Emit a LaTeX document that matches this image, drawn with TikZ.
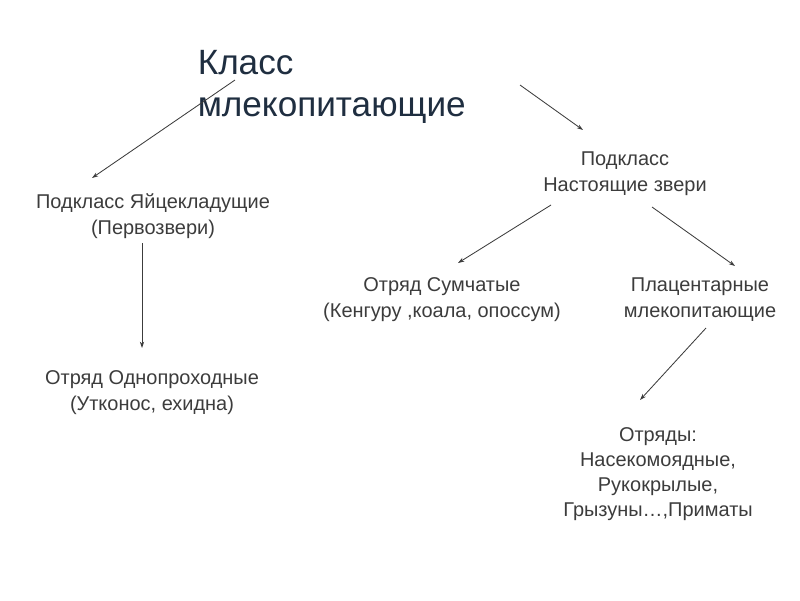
\documentclass[tikz,border=0pt]{standalone}
\usepackage{fontspec}
\setmainfont{Liberation Sans}
\usetikzlibrary{arrows.meta}
\definecolor{titleblue}{HTML}{1F2E40}
\definecolor{txtgray}{HTML}{3C3C3C}

\begin{document}
\begin{tikzpicture}
  \tikzset{
    lbl/.style={align=center, text=txtgray, font=\fontsize{14.2}{18.4}\selectfont},
    arr/.style={draw=txtgray, line width=0.6pt, -{Stealth[length=4.5pt,width=3pt]}}
  }
  \useasboundingbox (0,0) rectangle (20,-15);

  \node[anchor=west, align=left, text=titleblue, font=\fontsize{25}{30}\selectfont]
    (klass) at (4.82,-2.175) {Класс\\млекопитающие};
  \node[lbl] (yaytse) at (3.825,-5.4) {Подкласс Яйцекладущие\\(Первозвери)};
  \node[lbl] (nastoy) at (15.625,-4.35) {Подкласс\\Настоящие звери};
  \node[lbl] (sumch) at (11.05,-7.5) {Отряд Сумчатые\\(Кенгуру ,коала, опоссум)};
  \node[lbl] (placent) at (17.5,-7.5) {Плацентарные\\млекопитающие};
  \node[lbl] (odnopr) at (3.8,-9.825) {Отряд Однопроходные\\(Утконос, ехидна)};
  \node[lbl, text depth=0pt, font=\fontsize{14.2}{17.6}\selectfont] (otryady) at (16.45,-11.8)
    {Отряды:\\Насекомоядные,\\Рукокрылые,\\Грызуны…,Приматы};

  \coordinate (k1) at (5.875,-2.0);
  \coordinate (y1) at (2.3,-4.45);
  \coordinate (k2) at (13.0,-2.125);
  \coordinate (n1) at (14.575,-3.25);
  \coordinate (y2) at (3.55,-6.075);
  \coordinate (o1) at (3.55,-8.7);
  \coordinate (n2) at (13.775,-5.125);
  \coordinate (s1) at (11.45,-6.575);
  \coordinate (n3) at (16.3,-5.175);
  \coordinate (p1) at (18.375,-6.65);
  \coordinate (p2) at (17.65,-8.2);
  \coordinate (t1) at (16.0,-10.0);

  \draw[arr] (k1) -- (y1);
  \draw[arr] (k2) -- (n1);
  \draw[arr] (y2) -- (o1);
  \draw[arr] (n2) -- (s1);
  \draw[arr] (n3) -- (p1);
  \draw[arr] (p2) -- (t1);
\end{tikzpicture}
\end{document}
